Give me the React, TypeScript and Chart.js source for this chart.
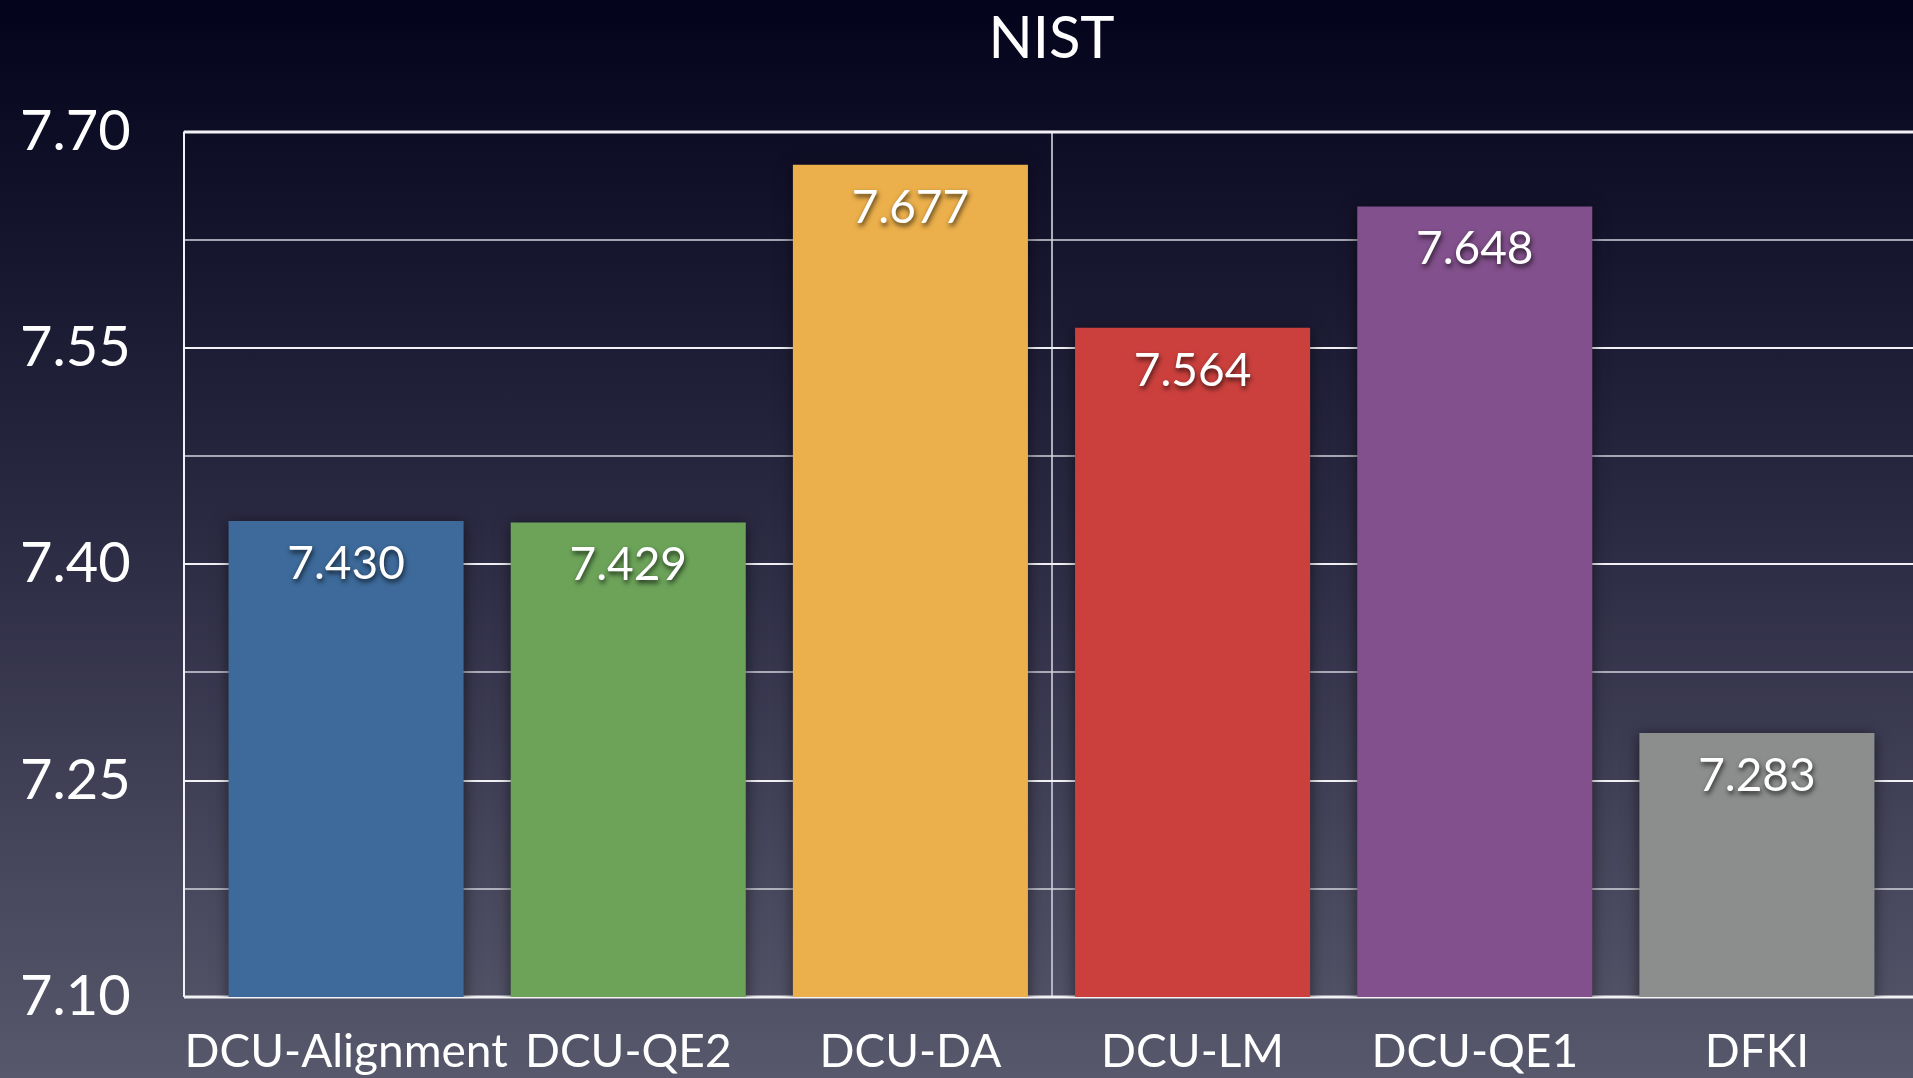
import { useEffect, useRef } from 'react';
import { Chart, registerables } from 'chart.js';

Chart.register(...registerables);

const chartTitle = 'NIST';
const categories = ['DCU-Alignment', 'DCU-QE2', 'DCU-DA', 'DCU-LM', 'DCU-QE1', 'DFKI'];
const values = [7.43, 7.429, 7.677, 7.564, 7.648, 7.283];
const barColors = ['#3d6a9a', '#6ca359', '#ebaf4b', '#cb403d', '#82508c', '#8c8e8d'];
const yTickLabels = ['7.10', '7.25', '7.40', '7.55', '7.70'];
const yMin = 7.1;
const yMax = 7.7;
const yStep = 0.075;

const FONT = 'Lato, "Open Sans", sans-serif';

const decorPlugin = {
  id: 'decor',
  beforeDatasetsDraw(chart: any) {
    const { ctx, chartArea, scales } = chart;
    const y = scales.y;
    const axisX = chartArea.left - 21;
    const rightX = chart.width;
    ctx.save();
    y.ticks.forEach((t: any, i: number) => {
      const py = Math.round(y.getPixelForValue(t.value));
      const isEdge = i === 0 || i === y.ticks.length - 1;
      const major = i % 2 === 0;
      ctx.strokeStyle = major ? '#f2f2f6' : '#d4d4de';
      ctx.lineWidth = isEdge ? 3 : major ? 2 : 1.5;
      ctx.beginPath();
      ctx.moveTo(axisX, py);
      ctx.lineTo(rightX, py);
      ctx.stroke();
    });
    ctx.strokeStyle = '#f2f2f6';
    ctx.lineWidth = 2;
    ctx.beginPath();
    ctx.moveTo(axisX, chartArea.top);
    ctx.lineTo(axisX, chartArea.bottom);
    ctx.stroke();
    ctx.restore();
  },
  beforeDatasetDraw(chart: any) {
    const ctx = chart.ctx;
    ctx.save();
    ctx.shadowColor = 'rgba(0,0,0,0.55)';
    ctx.shadowBlur = 14;
    ctx.shadowOffsetX = 0;
    ctx.shadowOffsetY = 2;
  },
  afterDatasetDraw(chart: any) {
    chart.ctx.restore();
  },
  afterDatasetsDraw(chart: any) {
    const { ctx } = chart;
    const meta = chart.getDatasetMeta(0);
    ctx.save();
    ctx.font = `46px ${FONT}`;
    ctx.fillStyle = '#ffffff';
    ctx.textAlign = 'center';
    ctx.textBaseline = 'middle';
    ctx.shadowColor = 'rgba(0,0,0,0.7)';
    ctx.shadowBlur = 5;
    ctx.shadowOffsetX = 1;
    ctx.shadowOffsetY = 3;
    meta.data.forEach((bar: any, i: number) => {
      ctx.fillText(values[i].toFixed(3), bar.x, bar.y + 43);
    });
    ctx.restore();
  },
};

export default function App() {
  const canvasRef = useRef<HTMLCanvasElement | null>(null);

  useEffect(() => {
    const canvas = canvasRef.current;
    if (!canvas) return;
    const chart = new Chart(canvas, {
      type: 'bar',
      data: {
        labels: categories,
        datasets: [
          {
            data: values,
            backgroundColor: barColors,
            borderWidth: 0,
            barPercentage: 0.833,
            categoryPercentage: 1,
          },
        ],
      },
      options: {
        responsive: false,
        animation: false,
        devicePixelRatio: 1,
        layout: { padding: { left: 20, right: 15, top: 0, bottom: 0 } },
        plugins: {
          legend: { display: false },
          tooltip: { enabled: false },
          title: {
            display: true,
            text: chartTitle,
            color: '#ffffff',
            fullSize: false,
            font: { family: FONT, size: 58, weight: 'normal', lineHeight: 1.2 },
            padding: { top: 4, bottom: 58 },
          },
        },
        scales: {
          x: {
            offset: true,
            grid: {
              display: true,
              offset: true,
              drawTicks: false,
              lineWidth: 2,
              color: (c: any) => (c.index === 3 ? 'rgba(190,190,205,0.9)' : 'rgba(0,0,0,0)'),
            },
            border: { display: false },
            ticks: {
              color: '#ffffff',
              font: { family: FONT, size: 46 },
              padding: 28,
              maxRotation: 0,
              autoSkip: false,
            },
            afterFit: (s: any) => {
              s.height = 81;
            },
          },
          y: {
            min: yMin,
            max: yMax,
            grid: { display: false, drawTicks: false },
            border: { display: false },
            ticks: {
              stepSize: yStep,
              color: '#ffffff',
              crossAlign: 'far',
              font: { family: FONT, size: 56 },
              callback: (v: any) => {
                const i = Math.round((Number(v) - yMin) / yStep);
                return i % 2 === 0 ? yTickLabels[i / 2] : '';
              },
            },
            afterFit: (s: any) => {
              s.width = 185;
            },
          },
        },
      },
      plugins: [decorPlugin],
    } as any);
    return () => chart.destroy();
  }, []);

  return (
    <div
      style={{
        position: 'fixed',
        left: 0,
        top: 0,
        width: 1913,
        height: 1078,
        overflow: 'hidden',
        background: 'linear-gradient(to bottom, #04031c 0%, #2c2b44 50%, #58586c 100%)',
      }}
    >
      <canvas ref={canvasRef} width={1913} height={1078} style={{ display: 'block', width: 1913, height: 1078 }} />
    </div>
  );
}
